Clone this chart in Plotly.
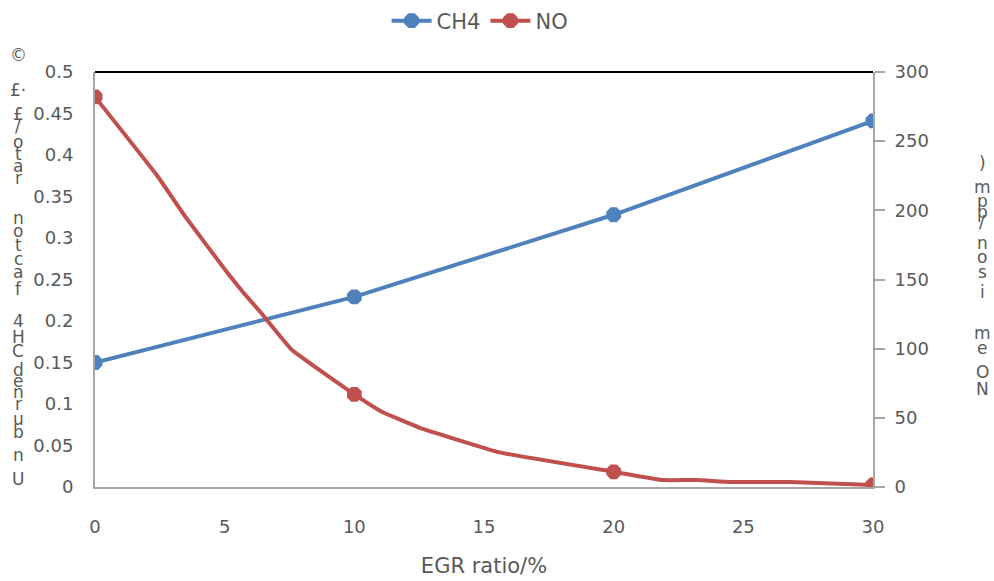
import plotly.graph_objects as go

# ---- data ----
egr_marks = [0, 10, 20, 30]
ch4_fraction = [0.150, 0.229, 0.328, 0.441]
no_marks = [282, 67, 11, 1.5]

no_curve_x = [0, 2.4, 3.5, 5.1, 5.7, 6.4, 7.6, 10, 11.1, 12.5, 15.6, 20, 21.9, 23.2, 24.5, 26.8, 30]
no_curve_y = [282, 225, 195, 155, 141, 126, 99, 67, 54, 43, 25, 11, 5, 5, 3.6, 3.6, 1.5]

x_ticks = [0, 5, 10, 15, 20, 25, 30]
left_ticks = [0, 0.05, 0.1, 0.15, 0.2, 0.25, 0.3, 0.35, 0.4, 0.45, 0.5]
right_ticks = [0, 50, 100, 150, 200, 250, 300]

# garbled vertical axis titles (glyphs as they appear, top to bottom)
left_title_chars = ["©", "£·", "£", "/", "o", "t", "a", "r", "n", "o", "t", "c", "a", "f",
                    "4", "H", "C", "d", "e", "n", "r", "u", "b", "n", "U"]
left_title_ypx = [55, 90, 114, 126, 142, 154, 166, 178, 218, 231, 245, 259, 272, 289,
                  321, 337, 351, 370, 381, 392, 404, 419, 432, 455, 479]
right_title_chars = [")", "m", "p", "p", "/", "n", "o", "s", "i", "m", "e", "O", "N"]
right_title_ypx = [163, 187, 201, 212, 222, 243, 257, 272, 292, 333, 348, 372, 389]

BLUE = "#4F81BD"
RED = "#C0504D"
GREY_TXT = "#595959"
AXIS = "#A6A6A6"
FONT = "DejaVu Sans"

W, H = 994, 581
L, R, T, B = 95, 121, 72, 94

fig = go.Figure()

fig.add_trace(go.Scatter(
    x=egr_marks, y=ch4_fraction, name="CH4", mode="lines+markers",
    line=dict(color=BLUE, width=4),
    marker=dict(symbol="octagon", size=16, color=BLUE),
    yaxis="y"))

fig.add_trace(go.Scatter(
    x=no_curve_x, y=no_curve_y, name="NO", mode="lines",
    line=dict(color=RED, width=4, shape="spline", smoothing=0.3),
    showlegend=False, yaxis="y2", hoverinfo="skip"))

fig.add_trace(go.Scatter(
    x=egr_marks, y=no_marks, name="NO", mode="markers",
    marker=dict(symbol="octagon", size=16, color=RED),
    showlegend=False, yaxis="y2"))

# legend entry for NO
fig.add_trace(go.Scatter(
    x=[None], y=[None], name="NO", mode="lines+markers",
    line=dict(color=RED, width=4),
    marker=dict(symbol="octagon", size=16, color=RED),
    yaxis="y2"))

tickfont = dict(family=FONT, size=18, color=GREY_TXT)

fig.update_layout(
    width=W, height=H,
    margin=dict(l=L, r=R, t=T, b=B),
    paper_bgcolor="white", plot_bgcolor="white",
    font=dict(family=FONT, color=GREY_TXT),
    showlegend=True,
    legend=dict(orientation="h", x=0.483, xanchor="center", xref="container",
                y=1 - 21 / H, yanchor="middle", yref="container",
                font=dict(family=FONT, size=21, color=GREY_TXT),
                itemwidth=40, bgcolor="rgba(0,0,0,0)"),
    xaxis=dict(range=[0, 30], tickvals=x_ticks, ticktext=[str(v) for v in x_ticks],
               showgrid=False, zeroline=False, showline=True, linecolor=AXIS, linewidth=2,
               ticks="", tickfont=tickfont, ticklabelstandoff=22, automargin=False,
               title=dict(text="EGR ratio/%", font=dict(family=FONT, size=21, color=GREY_TXT),
                          standoff=23)),
    yaxis=dict(range=[0, 0.5], tickvals=left_ticks,
               ticktext=["0", "0.05", "0.1", "0.15", "0.2", "0.25", "0.3", "0.35", "0.4", "0.45", "0.5"],
               showgrid=False, zeroline=False, showline=True, linecolor=AXIS, linewidth=2,
               ticks="", tickfont=tickfont, ticklabelstandoff=16, automargin=False),
    yaxis2=dict(range=[0, 300], tickvals=right_ticks, overlaying="y", side="right",
                showgrid=False, zeroline=False, showline=True, linecolor=AXIS, linewidth=2,
                ticks="outside", ticklen=10, tickcolor=AXIS, tickwidth=2,
                tickfont=tickfont, ticklabelstandoff=6, automargin=False),
)

# black top border
fig.add_shape(type="line", xref="paper", yref="paper", x0=0, x1=1, y0=1, y1=1,
              line=dict(color="black", width=2))

def ypx_to_paper(py):
    return (H - B - py) / (H - T - B)

for ch, py in zip(left_title_chars, left_title_ypx):
    fig.add_annotation(text=ch, xref="paper", yref="paper",
                       x=(18 - L) / (W - L - R), y=ypx_to_paper(py),
                       showarrow=False, xanchor="center", yanchor="middle",
                       font=dict(family=FONT, size=17, color=GREY_TXT))

for ch, py in zip(right_title_chars, right_title_ypx):
    fig.add_annotation(text=ch, xref="paper", yref="paper",
                       x=(982 - L) / (W - L - R), y=ypx_to_paper(py),
                       showarrow=False, xanchor="center", yanchor="middle",
                       font=dict(family=FONT, size=17, color=GREY_TXT))

fig.write_html("out.html", config={"displayModeBar": False},
               post_script="document.body.style.margin='0';document.body.style.overflow='hidden';")
